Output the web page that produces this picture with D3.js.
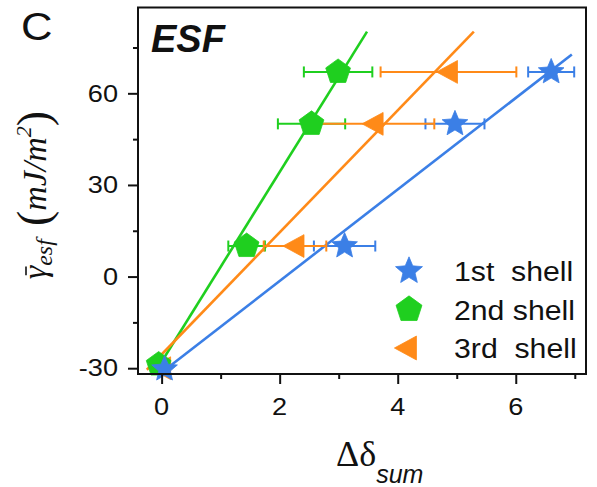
<!DOCTYPE html>
<html><head><meta charset="utf-8">
<script src="https://cdn.jsdelivr.net/npm/d3@7"></script>
<style>body{margin:0;background:#fff}svg{display:block}text{white-space:pre}</style>
</head><body>
<svg id="c" width="597" height="487"></svg>
<script>
// ---- data ----
const seriesNames = ["1st  shell", "2nd shell", "3rd  shell"];
const seriesColors = ["#3b7fe6", "#1fcf1f", "#ff8a18"];
const seriesSymbols = ["star", "pentagon", "triangleLeft"];

const shell1X = [0.05, 3.1, 4.97, 6.6];
const shell1Y = [-30.3, 10, 50, 67];
const shell1Err = [0, 0.52, 0.5, 0.39];

const shell2X = [-0.05, 1.44, 2.54, 2.99];
const shell2Y = [-28.8, 10, 50, 67];
const shell2Err = [0, 0.31, 0.57, 0.58];

const shell3X = [0, 2.26, 3.6, 4.86];
const shell3Y = [-30, 10, 50, 67];
const shell3Err = [0, 0.53, 1.02, 1.15];

// fitted lines: [x0, y0, x1, y1]
const fit1 = [0.06, -30.5, 6.95, 72.7];
const fit2 = [-0.1, -31, 3.48, 80.2];
const fit3 = [-0.25, -30.5, 5.29, 80.2];

const xMajorTicks = [0, 2, 4, 6];
const xMinorTicks = [1, 3, 5, 7];
const yMajorTicks = [-30, 0, 30, 60];
const yMinorTicks = [-15, 15, 45, 75];

const xDomain = [-0.4, 7.19];
const yDomain = [-31.9, 88.1];

// ---- build ----
const series = [
  {name: seriesNames[0], color: seriesColors[0], sym: seriesSymbols[0], xs: shell1X, ys: shell1Y, err: shell1Err, fit: fit1},
  {name: seriesNames[1], color: seriesColors[1], sym: seriesSymbols[1], xs: shell2X, ys: shell2Y, err: shell2Err, fit: fit2},
  {name: seriesNames[2], color: seriesColors[2], sym: seriesSymbols[2], xs: shell3X, ys: shell3Y, err: shell3Err, fit: fit3}
];

const svg = d3.select("#c");
const L = 138, R = 586, T = 7.5, B = 374;
const x = d3.scaleLinear().domain(xDomain).range([L, R]);
const y = d3.scaleLinear().domain(yDomain).range([B, T]);
const SANS = "'Liberation Sans', Arial, Helvetica, sans-serif";
const SERIF = "'Liberation Serif', 'Times New Roman', serif";
const SX = 1.18;

// custom symbol types
const symStar = {draw(ctx, size) {
  const Ro = Math.sqrt(size), Ri = Ro * 0.45;
  for (let i = 0; i < 10; i++) {
    const r = i % 2 ? Ri : Ro;
    const a = -Math.PI / 2 + i * Math.PI / 5;
    const px = r * Math.cos(a), py = r * Math.sin(a);
    i ? ctx.lineTo(px, py) : ctx.moveTo(px, py);
  }
  ctx.closePath();
}};
const symPent = {draw(ctx, size) {
  const Ro = Math.sqrt(size);
  for (let i = 0; i < 5; i++) {
    const a = -Math.PI / 2 + i * 2 * Math.PI / 5;
    const px = Ro * Math.cos(a), py = Ro * Math.sin(a);
    i ? ctx.lineTo(px, py) : ctx.moveTo(px, py);
  }
  ctx.closePath();
}};
const symTri = {draw(ctx, size) {
  const s = Math.sqrt(size);
  ctx.moveTo(-s * 1.0, 0);
  ctx.lineTo(s * 0.75, -s * 0.95);
  ctx.lineTo(s * 0.75, s * 0.95);
  ctx.closePath();
}};
const symMap = {star: symStar, pentagon: symPent, triangleLeft: symTri};
const symSize = {star: 13.5 * 13.5, pentagon: 13 * 13, triangleLeft: 12 * 12};

// fitted lines
const lineGen = d3.line().x(d => x(d[0])).y(d => y(d[1]));
series.forEach(s => {
  svg.append("path")
    .attr("d", lineGen([[s.fit[0], s.fit[1]], [s.fit[2], s.fit[3]]]))
    .attr("stroke", s.color).attr("stroke-width", 2.6).attr("fill", "none");
});

// error bars
series.forEach(s => {
  const g = svg.append("g").attr("stroke", s.color).attr("stroke-width", 2);
  s.xs.forEach((xv, i) => {
    const e = s.err[i];
    if (!e) return;
    const yy = y(s.ys[i]);
    g.append("line").attr("x1", x(xv - e)).attr("x2", x(xv + e)).attr("y1", yy).attr("y2", yy);
    g.append("line").attr("x1", x(xv - e)).attr("x2", x(xv - e)).attr("y1", yy - 5.5).attr("y2", yy + 5.5);
    g.append("line").attr("x1", x(xv + e)).attr("x2", x(xv + e)).attr("y1", yy - 5.5).attr("y2", yy + 5.5);
  });
});

// markers
[2, 1, 0].forEach(k => {
  const s = series[k];
  const sym = d3.symbol().type(symMap[s.sym]).size(symSize[s.sym]);
  s.xs.forEach((xv, i) => {
    svg.append("path").attr("d", sym())
      .attr("transform", `translate(${x(xv)},${y(s.ys[i])})`)
      .attr("fill", s.color).attr("stroke", s.color).attr("stroke-width", 0.8);
  });
});

// frame
svg.append("rect").attr("x", L).attr("y", T).attr("width", R - L).attr("height", B - T)
  .attr("fill", "none").attr("stroke", "#111").attr("stroke-width", 2);

// axes
const xAxisG = svg.append("g").attr("transform", `translate(0,${B})`)
  .call(d3.axisBottom(x).tickValues(xMajorTicks).tickSize(10).tickFormat(""));
const xMinG = svg.append("g").attr("transform", `translate(0,${B})`)
  .call(d3.axisBottom(x).tickValues(xMinorTicks).tickSize(5).tickFormat(""));
const yAxisG = svg.append("g").attr("transform", `translate(${L},0)`)
  .call(d3.axisLeft(y).tickValues(yMajorTicks).tickSize(10).tickFormat(""));
const yMinG = svg.append("g").attr("transform", `translate(${L},0)`)
  .call(d3.axisLeft(y).tickValues(yMinorTicks).tickSize(5).tickFormat(""));
[xAxisG, xMinG, yAxisG, yMinG].forEach(g => {
  g.select(".domain").remove();
  g.selectAll(".tick line").attr("stroke", "#111").attr("stroke-width", 2);
});

// tick labels
xMajorTicks.forEach(v => {
  svg.append("text").attr("transform", `translate(${x(v)},415) scale(${SX},1)`)
    .attr("text-anchor", "middle").attr("font-family", SANS).attr("font-size", 23)
    .attr("fill", "#111").text(v);
});
yMajorTicks.forEach(v => {
  svg.append("text").attr("transform", `translate(118,${y(v) + 8.3}) scale(${SX},1)`)
    .attr("text-anchor", "end").attr("font-family", SANS).attr("font-size", 23)
    .attr("fill", "#111").text(v);
});

// panel letter and title
svg.append("text").attr("transform", `translate(21,40) scale(1.12,1)`)
  .attr("font-family", SANS).attr("font-size", 39).attr("fill", "#111").text("C");
svg.append("text").attr("transform", `translate(151,52)`)
  .attr("font-family", SANS).attr("font-size", 38).attr("font-weight", "bold")
  .attr("font-style", "italic").attr("fill", "#111").text("ESF");

// legend
const legRowY = [271, 309.5, 348];
series.forEach((s, i) => {
  const sym = d3.symbol().type(symMap[s.sym]).size(symSize[s.sym] * 1.1);
  svg.append("path").attr("d", sym())
    .attr("transform", `translate(${s.sym === "triangleLeft" ? 407 : 409},${legRowY[i]})`)
    .attr("fill", s.color).attr("stroke", s.color).attr("stroke-width", 0.8);
  svg.append("text").attr("transform", `translate(454,${legRowY[i] + 10}) scale(1.12,1)`)
    .attr("font-family", SANS).attr("font-size", 27).attr("fill", "#111").text(s.name);
});

// x axis label
const xl = svg.append("text").attr("x", 336).attr("y", 466).attr("fill", "#111");
xl.append("tspan").attr("font-family", SERIF).attr("font-size", 36).text("Δδ");
xl.append("tspan").attr("font-family", SANS).attr("font-style", "italic").attr("font-size", 25)
  .attr("dy", 17).text("sum");

// y axis label (rotated group)
const ylg = svg.append("g").attr("transform", "translate(46,195) rotate(-90)");
const yl = ylg.append("text").attr("fill", "#111").attr("font-family", SERIF).attr("font-style", "italic");
yl.append("tspan").attr("font-size", 34).text("γ");
yl.append("tspan").attr("font-size", 24).attr("dy", 6).text("esf");
yl.append("tspan").attr("font-size", 26).attr("dy", -6).text("  ");
yl.append("tspan").attr("font-size", 46).attr("font-style", "normal").attr("dy", 3).text("(");
yl.append("tspan").attr("font-size", 34).attr("dy", -3).text("mJ/m");
yl.append("tspan").attr("font-size", 22).attr("dy", -15).text("2");
yl.append("tspan").attr("font-size", 46).attr("font-style", "normal").attr("dy", 18).text(")");
const totalLen = yl.node().getComputedTextLength();
const gW = yl.node().getSubStringLength(0, 1);
const x0 = -totalLen / 2;
yl.attr("x", x0);
ylg.append("line").attr("x1", x0 + gW * 0.3).attr("x2", x0 + gW * 0.95)
  .attr("y1", -20).attr("y2", -20).attr("stroke", "#111").attr("stroke-width", 1.6);
</script>
</body></html>
